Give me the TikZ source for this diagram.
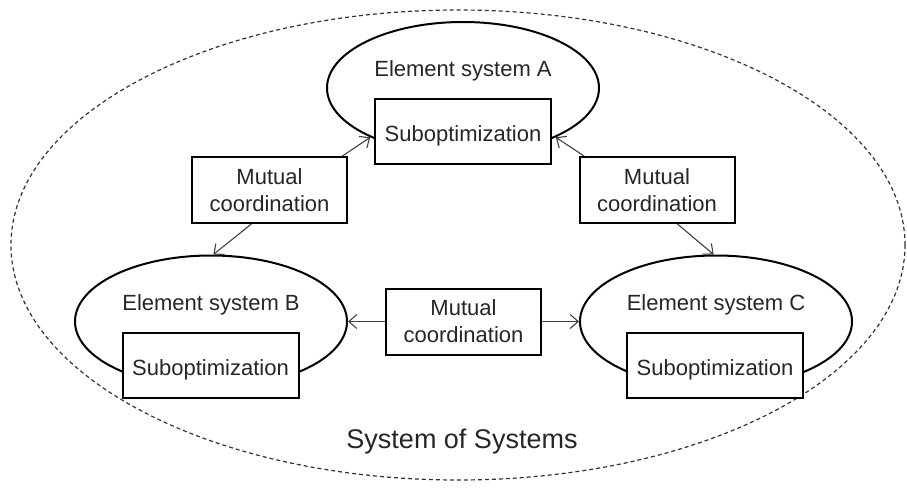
\documentclass[tikz,border=0pt]{standalone}
\usepackage{fontspec}
\setmainfont{Liberation Sans}
\usetikzlibrary{shapes.geometric,arrows.meta}
\begin{document}
\begin{tikzpicture}[x=1pt,y=-1pt,
  txt/.style={font=\fontsize{22}{27}\selectfont,text=black!85},
  outerell/.style={ellipse,draw=black!80,line width=1.2pt,dash pattern=on 4pt off 3pt,minimum width=894pt,minimum height=470pt,inner sep=0pt},
  ell/.style={ellipse,draw,line width=2pt,minimum width=272pt,minimum height=132pt,inner sep=0pt},
  subbox/.style={rectangle,draw,line width=2pt,fill=white,minimum width=176pt,minimum height=65pt,inner sep=0pt,txt,text height=19pt,text depth=0pt},
  mcbox/.style={rectangle,draw,line width=2pt,fill=white,minimum width=155pt,minimum height=66pt,inner sep=0pt,align=center,txt},
  lbl/.style={txt,inner sep=0pt,anchor=base},
  conn/.style={draw=black!75,line width=1.1pt,-{Straight Barb[length=8pt,width=14pt]}},
]
\useasboundingbox (0,0) rectangle (907,487);
\node[outerell] (sos) at (458,245) {};
\node[lbl,font=\fontsize{27}{32}\selectfont] (soslbl) at (462,448) {System of Systems};

\node[ell] (ellA) at (463,88) {};
\node[ell] (ellB) at (211,321.5) {};
\node[ell] (ellC) at (716,321.5) {};

\node[lbl] (lblA) at (463,77) {Element system A};
\node[lbl] (lblB) at (211,310) {Element system B};
\node[lbl] (lblC) at (716,310) {Element system C};

\node[subbox] (subA) at (463,131.5) {Suboptimization};
\node[subbox] (subB) at (210.5,365.5) {Suboptimization};
\node[subbox] (subC) at (715,365.5) {Suboptimization};

\node[mcbox] (mcL) at (269.5,190) {Mutual\\coordination};
\node[mcbox] (mcR) at (657,190) {Mutual\\coordination};
\node[mcbox] (mcB) at (463.5,321.5) {Mutual\\coordination};

\draw[conn] (mcL.25) -- (ellA.208);
\draw[conn] (mcR.155) -- (ellA.332);
\draw[conn] (mcL.242) -- (ellB.88);
\draw[conn] (mcR.301) -- (ellC.92);
\draw[conn] (mcB.west) -- (ellB.east);
\draw[conn] (mcB.east) -- (ellC.west);
\end{tikzpicture}
\end{document}
